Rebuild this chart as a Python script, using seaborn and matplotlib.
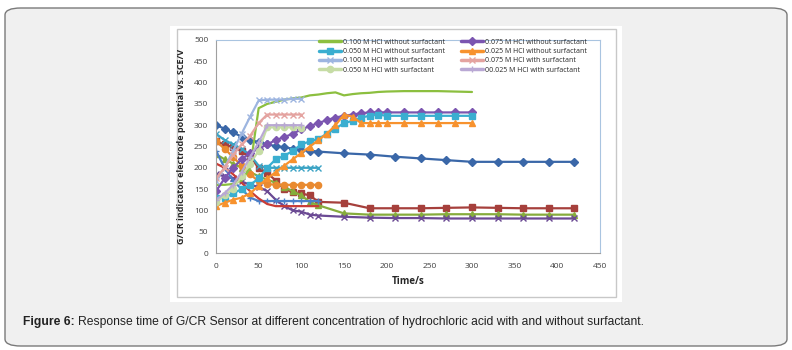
import matplotlib
matplotlib.use("Agg")
import matplotlib.pyplot as plt
from matplotlib.patches import FancyBboxPatch, Rectangle
import seaborn as sns
import pandas as pd

# tempos (s)
t_longo = [0, 10, 20, 30, 40, 50, 60, 70, 80, 90, 100, 110, 120,
           150, 180, 210, 240, 270, 300, 330, 360, 390, 420]
t_curto = [0, 10, 20, 30, 40, 50, 60, 70, 80, 90, 100, 110, 120]
t_300 = [0, 10, 20, 30, 40, 50, 60, 70, 80, 90, 100, 110, 120, 130, 140,
         150, 160, 170, 180, 190, 200, 220, 240, 260, 280, 300]
t_100 = [0, 10, 20, 30, 40, 50, 60, 70, 80, 90, 100]

# series sem legenda (primeira metade do grafico original)
s1 = [300, 292, 283, 273, 266, 260, 255, 251, 248, 245, 242, 240, 238,
      234, 231, 226, 222, 218, 214, 214, 214, 214, 214]
s2 = [262, 255, 248, 240, 225, 200, 188, 170, 150, 143, 140, 135, 120,
      118, 105, 105, 105, 106, 107, 106, 105, 105, 105]
s3 = [232, 220, 210, 200, 190, 180, 172, 165, 155, 145, 135, 120, 112,
      93, 90, 90, 90, 91, 91, 91, 90, 90, 90]
s4 = [185, 180, 175, 168, 160, 155, 145, 125, 110, 100, 97, 90, 88,
      85, 83, 82, 82, 81, 81, 81, 81, 81, 81]
s5 = [280, 265, 255, 245, 230, 205, 200, 200, 200, 200, 200, 200, 200]
s6 = [262, 245, 225, 205, 185, 168, 162, 160, 160, 160, 160, 160, 160]
s7 = [240, 200, 170, 150, 130, 122, 122, 122, 122, 122, 122, 122, 122]
s8 = [210, 200, 185, 165, 145, 128, 115, 110, 110, 110, 110, 110, 110]

# series com legenda
hcl100_sem = [160, 160, 162, 170, 200, 340, 350, 355, 360, 363, 365, 370, 372,
              375, 377, 370, 373, 375, 376, 378, 379, 380, 380, 380, 379, 378]
hcl075_sem = [145, 175, 200, 220, 235, 245, 255, 265, 272, 280, 290, 298, 305,
              312, 318, 322, 325, 328, 330, 330, 330, 330, 330, 330, 330, 330]
hcl050_sem = [128, 130, 140, 150, 160, 175, 200, 220, 228, 240, 255, 262, 268,
              280, 292, 305, 310, 318, 322, 325, 322, 322, 322, 322, 322, 322]
hcl025_sem = [110, 118, 125, 130, 140, 158, 175, 190, 205, 220, 235, 250, 265,
              280, 300, 325, 320, 305, 305, 305, 305, 305, 305, 305, 305, 305]
hcl100_com = [170, 200, 240, 280, 320, 358, 360, 360, 360, 362, 362]
hcl075_com = [175, 200, 230, 255, 275, 305, 325, 325, 325, 325, 325]
hcl050_com = [120, 135, 150, 180, 210, 240, 295, 295, 295, 295, 293]
hcl025_com = [125, 140, 160, 190, 225, 260, 300, 300, 300, 300, 300]

rotulos = ["0.100 M HCl without surfactant", "0.075 M HCl without surfactant",
           "0.050 M HCl without surfactant", "0.025 M HCl without surfactant",
           "0.100 M HCl with surfactant", "0.075 M HCl with surfactant",
           "0.050 M HCl with surfactant", "00.025 M HCl with surfactant"]

series = [
    (t_longo, s1, "#3a67a8", "D", None),
    (t_longo, s2, "#a6403c", "s", None),
    (t_longo, s3, "#86ac3c", "^", None),
    (t_longo, s4, "#6b4a94", "x", None),
    (t_curto, s5, "#3ba3c4", "x", None),
    (t_curto, s6, "#e98a30", "o", None),
    (t_curto, s7, "#4a7fc8", "+", None),
    (t_curto, s8, "#c83c36", None, None),
    (t_300, hcl100_sem, "#8cbf3f", None, rotulos[0]),
    (t_300, hcl075_sem, "#7b55b0", "D", rotulos[1]),
    (t_300, hcl050_sem, "#3aaed0", "s", rotulos[2]),
    (t_300, hcl025_sem, "#f7922e", "^", rotulos[3]),
    (t_100, hcl100_com, "#9db5e0", "x", rotulos[4]),
    (t_100, hcl075_com, "#e4a3a0", "x", rotulos[5]),
    (t_100, hcl050_com, "#c6dca5", "o", rotulos[6]),
    (t_100, hcl025_com, "#b9a8d4", "+", rotulos[7]),
]

sns.set_style("white")
plt.rcParams['font.family'] = ['Open Sans', 'DejaVu Sans']

fig = plt.figure(figsize=(7.92, 3.5), dpi=100)
fig.patch.set_facecolor("white")

# moldura cinza arredondada
fig.patches.append(FancyBboxPatch((5 / 792, 4 / 350), 782 / 792, 338 / 350,
                                  boxstyle="round,pad=0,rounding_size=0.02",
                                  transform=fig.transFigure, facecolor="#f0f0f0",
                                  edgecolor="#7a7a7a", linewidth=1.0, zorder=-3))
# painel branco da imagem
fig.patches.append(Rectangle((170 / 792, 48 / 350), 452 / 792, 276 / 350,
                             transform=fig.transFigure, facecolor="white",
                             edgecolor="none", zorder=-2))
fig.patches.append(Rectangle((177 / 792, 53 / 350), 439 / 792, 268 / 350,
                             transform=fig.transFigure, facecolor="white",
                             edgecolor="#c8c8c8", linewidth=1.0, zorder=-1))

ax = fig.add_axes([216 / 792, 1 - 253 / 350, 384 / 792, 213 / 350])
ax.set_facecolor("white")

for x, y, cor, marc, rot in series:
    df = pd.DataFrame({"Time/s": x, "E": y})
    sns.lineplot(data=df, x="Time/s", y="E", ax=ax, color=cor, marker=marc,
                 markersize=4.5, markeredgecolor=cor, markeredgewidth=1.0,
                 linewidth=1.6, label=rot if rot else "_nolegend_")

ax.set_xlim(0, 450)
ax.set_ylim(0, 500)
ax.set_xticks(range(0, 451, 50))
ax.set_yticks(range(0, 501, 50))
ax.tick_params(axis="both", labelsize=6, colors="#404040", length=2.5,
               direction="out", pad=3)
ax.tick_params(axis="x", pad=5)
ax.set_xlabel("Time/s", fontsize=7, fontweight="bold", labelpad=4)
ax.set_ylabel("G/CR indicator electrode potential vs. SCE/V", fontsize=6.5,
              fontweight="bold", labelpad=6)
for lado in ["left", "bottom"]:
    ax.spines[lado].set_color("#a0a0a0")
    ax.spines[lado].set_linewidth(0.8)
for lado in ["top", "right"]:
    ax.spines[lado].set_color("#a9c4e0")
    ax.spines[lado].set_linewidth(0.8)

# legenda preenchida por linhas (como no Excel)
handles, labels = ax.get_legend_handles_labels()
ordem = [0, 2, 4, 6, 1, 3, 5, 7]
leg = ax.legend([handles[i] for i in ordem], [labels[i] for i in ordem],
                loc="upper left", bbox_to_anchor=(0.26, 1.02), ncol=2,
                fontsize=5, frameon=False, handlelength=3.2, handletextpad=0.3,
                columnspacing=2.3, labelspacing=0.35, borderaxespad=0)
for h in leg.get_lines():
    h.set_linewidth(2.5)

fig.text(23 / 792, 1 - 322 / 350, "Figure 6:", fontsize=8.7, fontweight="bold",
         family=["Liberation Sans", "DejaVu Sans"], va="center", color="#222222")
fig.text(78 / 792, 1 - 322 / 350,
         "Response time of G/CR Sensor at different concentration of hydrochloric acid with and without surfactant.",
         fontsize=8.7, family=["Liberation Sans", "DejaVu Sans"], va="center",
         color="#222222")

fig.savefig("out.png", dpi=100)
